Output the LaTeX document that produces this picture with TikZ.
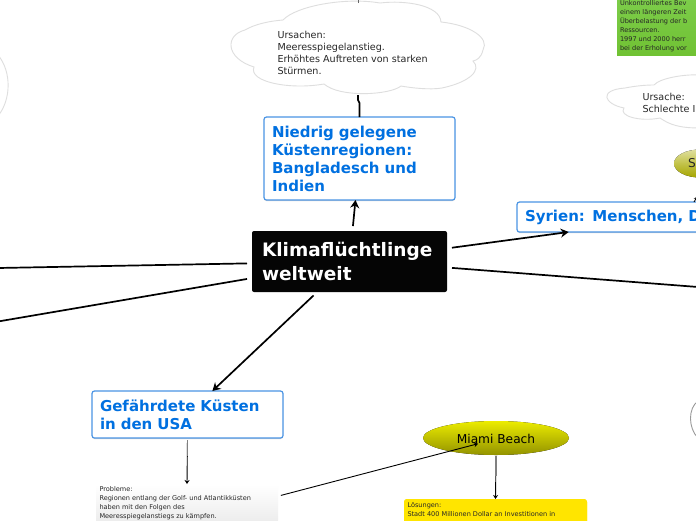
\documentclass[tikz,border=0pt]{standalone}
\usepackage{fontspec}
\setmainfont{DejaVu Sans}
\usetikzlibrary{arrows.meta,calc,shadows}
\definecolor{topicblue}{HTML}{0070E0}
\definecolor{topicedge}{HTML}{4A94E4}
\definecolor{cloudedge}{HTML}{DEDEDE}
\tikzset{
  every node/.style={outer sep=0pt},
  topicbox/.style={draw=topicedge,line width=1.2pt,fill=white,rounded corners=2.5pt,
    text=topicblue,align=left,inner sep=0pt,
    font=\fontsize{15}{18}\selectfont\bfseries,
    drop shadow={shadow xshift=0pt,shadow yshift=-1pt,opacity=.35,fill=gray}},
  rootbox/.style={fill=black!98,rounded corners=2pt,text=white,align=left,inner sep=0pt,
    minimum width=195pt,minimum height=61pt,text width=175pt,
    font=\fontsize{18.5}{24}\selectfont\bfseries},
  main link/.style={line width=1.7pt,-{Stealth[length=8pt,width=9pt]}},
  free link/.style={line width=1.7pt},
  thin link/.style={line width=.9pt,-{Stealth[length=4pt,width=5pt]}},
  fade link/.style={line width=1.6pt,gray},
  cloudshape/.style={draw=cloudedge,line width=.9pt,fill=white},
  cloudtext/.style={align=left,inner sep=0pt,text=black!85,font=\fontsize{9.6}{12}\selectfont},
  smalltext/.style={align=left,inner sep=0pt,text=black!85,font=\fontsize{6.55}{9}\selectfont},
  arcline/.style={draw=#1,line width=.9pt},
}
\begin{document}
\begin{tikzpicture}[x=1pt,y=-1pt]
\useasboundingbox (0,0) rectangle (696,520);
\clip (0,0) rectangle (696,520);
\fill[white] (0,0) rectangle (696,520);

% partial circles at the edges
\draw[arcline=cloudedge] (-2,55) .. controls (12,72) and (11,100) .. (-2,116);
\draw[arcline=black!40] (698,401) .. controls (688,408) and (688,428) .. (698,438);

% boxes
\node[rootbox] (root) at (349.5,261.5) {Klimaflüchtlinge\\weltweit};
\node[topicbox,minimum width=191pt,minimum height=83pt,text width=175pt] (niedrig) at (359.5,158.5)
  {Niedrig gelegene\\Küstenregionen:\\Bangladesch und\\Indien};
\node[topicbox,minimum width=326pt,minimum height=30pt,text width=310pt,anchor=west] (syrien) at (517,217)
  {Syrien: Menschen, D};
\node[topicbox,minimum width=191pt,minimum height=47pt,text width=175pt] (usa) at (187.5,414.5)
  {Gefährdete Küsten\\in den USA};
\node[minimum width=182pt,minimum height=72pt,top color=white,bottom color=black!14,inner sep=0pt] (probleme) at (187,520) {};
\node[smalltext,anchor=north west] (problemetext) at ($(probleme.north west)+(3.5,2.5)$)
  {Probleme:\\Regionen entlang der Golf- und Atlantikküsten\\haben mit den Folgen des\\Meeresspiegelanstiegs zu kämpfen.};
\node[minimum width=183pt,minimum height=52pt,fill=yellow!85!orange,rounded corners=3pt,inner sep=0pt,top color=yellow!80!orange,bottom color=yellow!80!orange] (loesungen) at (495.5,525) {};
\node[smalltext,anchor=north west] (loesungentext) at ($(loesungen.north west)+(3.5,4)$)
  {Lösungen:\\Stadt 400 Millionen Dollar an Investitionen in};
\node[minimum width=90pt,minimum height=62pt,inner sep=0pt,top color=green!45!olive!70!white,bottom color=green!40!olive!80!white,anchor=north west] (gruen) at (617,-7) {};
\node[smalltext,anchor=north west] (gruentext) at (620,0.5)
  {Unkontrolliertes Bev\\einem längeren Zeit\\Überbelastung der b\\Ressourcen.\\1997 und 2000 herr\\bei der Erholung vor};

% ellipses
\fill[top color=yellow!85!olive,bottom color=olive!85!yellow] (496,438) ellipse [x radius=73,y radius=17];
\node[inner sep=0pt,font=\fontsize{12.2}{14}\selectfont] (miami) at (496,439) {Miami Beach};
\fill[top color=olive!25!white,bottom color=olive!70!white] (700,163.5) ellipse [x radius=26,y radius=14];
\node[inner sep=0pt,font=\fontsize{12.2}{14}\selectfont,text=black!85,anchor=west] (s) at (688,163.5) {S};

% clouds
\draw[cloudshape] (283,20) .. controls (296,6) and (345,-3) .. (380,3)
  .. controls (405,0) and (440,5) .. (441,22)
  .. controls (470,25) and (490,38) .. (483,50)
  .. controls (481,58) and (477,60) .. (473,61)
  .. controls (482,70) and (470,82) .. (442,88)
  .. controls (430,90) and (412,88) .. (401,86)
  .. controls (390,95) and (340,98) .. (324,84)
  .. controls (290,90) and (248,82) .. (254,67)
  .. controls (225,58) and (225,35) .. (245,30)
  .. controls (255,24) and (270,21) .. (283,20) -- cycle;
\node[cloudtext,anchor=north west] (ursachen) at (277.5,31.5)
  {Ursachen:\\Meeresspiegelanstieg.\\Erhöhtes Auftreten von starken\\Stürmen.};
\draw[cloudshape] (654,85) .. controls (660,78) and (685,74) .. (700,75) -- (700,128)
  .. controls (680,128) and (670,125) .. (660,118)
  .. controls (640,122) and (618,116) .. (624,108)
  .. controls (604,104) and (598,90) .. (625,88)
  .. controls (635,86) and (645,85) .. (654,85) -- cycle;
\node[cloudtext,anchor=north west] (ursache) at (642.5,93.5) {Ursache:\\Schlechte I};

% connectors
\coordinate (cloudfoot) at (358,95);
\coordinate (cloudtop) at (358,3);
\coordinate (toptip) at (358,-3);
\coordinate (leftone) at (-2,268);
\coordinate (lefttwo) at (-2,321.5);
\coordinate (rightone) at (698,287);
\draw[main link,shorten <=5pt] (root) -- (niedrig);
\draw[main link,shorten <=5pt] (root) -- (syrien);
\draw[main link,shorten <=5pt] (root) -- (usa);
\draw[free link,shorten <=5pt] (root) -- (leftone);
\draw[free link,shorten <=5pt] (root) -- (lefttwo);
\draw[free link,shorten <=5pt] (root.east) ++(0,6) -- (rightone);
\draw[free link] (niedrig.north) -- ++(0,-14) -- ++(-1.5,-3) -- (cloudfoot);
\draw[line width=.8pt,black!60] (cloudtop) -- (toptip);
\draw[thin link,shorten <=2pt] (usa.south) -- (probleme.north);
\draw[fade link,shorten <=2pt] (usa.south) -- ($(usa.south)+(0,18)$);
\draw[thin link,shorten <=3pt] (probleme) -- (miami);
\draw[thin link,shorten <=3pt] (miami.south) ++(0,12) -- (loesungen.north);
\draw[fade link] (miami.south) ++(0,12) -- ++(0,20);
\draw[line width=.8pt,-{Stealth[length=3pt,width=4pt]}] ($(syrien.north west)+(177,0)$) -- ($(syrien.north west)+(180,-5)$);
\end{tikzpicture}
\end{document}
